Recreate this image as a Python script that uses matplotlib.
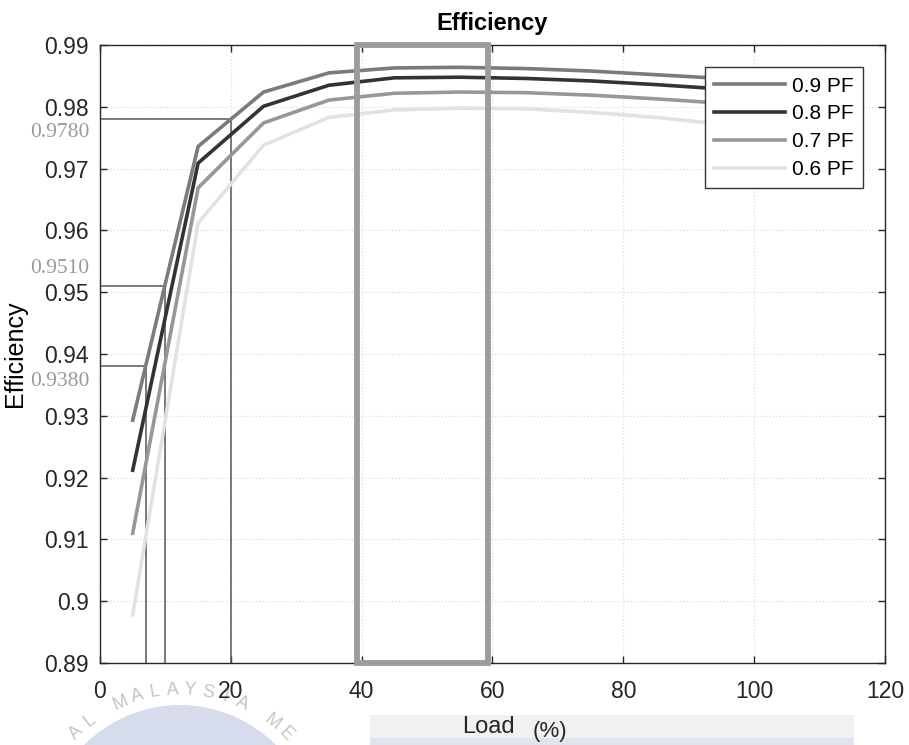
import numpy as np
import matplotlib.pyplot as plt
from matplotlib.patches import Circle, Rectangle
from matplotlib.ticker import FuncFormatter

plt.rcParams['font.family'] = ['Liberation Sans', 'DejaVu Sans']

# load points (%) and efficiency for each power factor
load = [5, 15, 25, 35, 45, 55, 65, 75, 85, 95, 105]
pf_labels = ['0.9 PF', '0.8 PF', '0.7 PF', '0.6 PF']
eff_09 = [0.9293, 0.9736, 0.9824, 0.9855, 0.9863, 0.9864, 0.9862, 0.9858, 0.9852, 0.9846, 0.9840]
eff_08 = [0.9212, 0.9709, 0.9801, 0.9835, 0.9847, 0.9848, 0.9846, 0.9842, 0.9836, 0.9829, 0.9820]
eff_07 = [0.9110, 0.9669, 0.9774, 0.9811, 0.9822, 0.9824, 0.9823, 0.9819, 0.9813, 0.9806, 0.9797]
eff_06 = [0.8978, 0.9612, 0.9738, 0.9783, 0.9795, 0.9798, 0.9797, 0.9791, 0.9783, 0.9772, 0.9760]
pf_colors = ['#7b7b7b', '#333333', '#979797', '#e2e2e2']

# marked levels on the curves
mark_levels = [0.9780, 0.9510, 0.9380]
mark_loads = [20, 10, 7]
mark_text = ['0.9780', '0.9510', '0.9380']
mark_text_y = [0.9759, 0.9538, 0.9355]

# highlighted load range
box_lo, box_hi = 39.3, 59.3

xticks = [0, 20, 40, 60, 80, 100, 120]
yticks = [0.89, 0.90, 0.91, 0.92, 0.93, 0.94, 0.95, 0.96, 0.97, 0.98, 0.99]

fig = plt.figure(figsize=(9.09, 7.45), dpi=100)

# scanned-page background bits (band under x label, faint logo)
bg = fig.add_axes([0, 0, 1, 1], zorder=-1)
bg.set_xlim(0, 909)
bg.set_ylim(745, 0)
bg.axis('off')
bg.add_patch(Rectangle((370, 715), 484, 23, color='#f1f1f1', lw=0))
bg.add_patch(Rectangle((370, 738), 484, 7, color='#dfe4f0', lw=0))
cx, cy = 180, 840
bg.add_patch(Circle((cx, cy), 135, color='#d6dcec', lw=0))
wm = 'AL MALAYSIA ME'
angs = np.linspace(134, 45, len(wm))
for ch, a in zip(wm, angs):
    r = 150
    px = cx + r * np.cos(np.radians(a))
    py = cy - r * np.sin(np.radians(a))
    bg.text(px, py, ch, rotation=a - 90, ha='center', va='center',
            fontsize=13, color='#c4c4c4')

ax = fig.add_axes([0.110, 0.110, 0.8636, 0.8295])
ax.set_facecolor('white')

for y, lab, c in zip([eff_09, eff_08, eff_07, eff_06], pf_labels, pf_colors):
    ax.plot(load, y, color=c, lw=2.6, label=lab, zorder=3)

for lv, ld in zip(mark_levels, mark_loads):
    ax.plot([0, ld], [lv, lv], color='#555555', lw=1.1, zorder=2)
    ax.plot([ld, ld], [0.89, lv], color='#555555', lw=1.1, zorder=2)
for t, ty in zip(mark_text, mark_text_y):
    ax.text(-1.6, ty, t, ha='right', va='center', fontsize=15.5,
            color='#9a9a9a', family='Liberation Serif', clip_on=False)

ax.add_patch(Rectangle((box_lo, 0.89), box_hi - box_lo, 0.10, fill=False,
                       edgecolor='#9c9c9c', lw=4.2, zorder=4, clip_on=False))

ax.set_xlim(0, 120)
ax.set_ylim(0.89, 0.99)
ax.set_xticks(xticks)
ax.set_yticks(yticks)
ax.yaxis.set_major_formatter(FuncFormatter(lambda v, p: f'{v:.2f}'.rstrip('0').rstrip('.')))
ax.tick_params(direction='in', top=True, right=True, length=5, width=1,
               labelsize=16.5, colors='#262626')
ax.tick_params(axis='x', pad=12)
ax.tick_params(axis='y', pad=8)
ax.grid(True, color='#dddddd', linestyle=':', linewidth=0.9)
ax.set_axisbelow(True)
for s in ax.spines.values():
    s.set_color('#262626')
    s.set_linewidth(1.0)

ax.set_title('Efficiency', fontsize=17, fontweight='bold', pad=11)
ax.set_ylabel('Efficiency', fontsize=18)
ax.yaxis.set_label_coords(-0.093, 0.5)

# x label drawn as two pieces, "(%)" a bit smaller and lower
bg.text(488, 727, 'Load', ha='center', va='center', fontsize=17, color='#262626')
bg.text(550, 732, '(%)', ha='center', va='center', fontsize=16, color='#262626')

ax.legend(loc='upper right', bbox_to_anchor=(0.972, 0.964), borderaxespad=0,
          fontsize=15, handlelength=3.4, handletextpad=0.35, labelspacing=0.42,
          borderpad=0.45, fancybox=False, edgecolor='#333333', framealpha=1)

fig.savefig('out.png', dpi=100)
